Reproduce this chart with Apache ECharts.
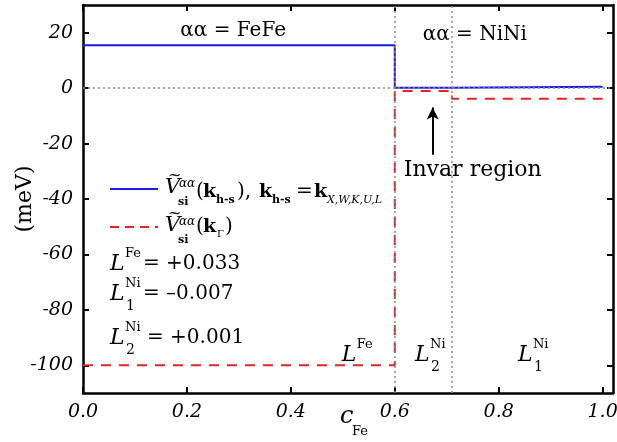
<!DOCTYPE html>
<html>
<head>
<meta charset="utf-8">
<script src="https://cdn.jsdelivr.net/npm/echarts@6/dist/echarts.min.js"></script>
<style>
  html, body { margin: 0; padding: 0; background: #fff; }
  #chart { width: 617px; height: 442px; }
</style>
</head>
<body>
<div id="chart"></div>
<script>
// Axis ticks
const xTicks = [0, 0.2, 0.4, 0.6, 0.8, 1.0];
const yTicks = [-100, -80, -60, -40, -20, 0, 20];

// Step profile of the short-range interaction along the high-symmetry k points
const blueX = [0, 0.6, 0.6, 0.71, 0.71, 1.0];
const blueY = [15.5, 15.5, 0.1, 0.1, 0.5, 0.5];

// Step profile at the Gamma point
const redX = [0, 0.6, 0.6, 0.71, 0.71, 1.0];
const redY = [-100, -100, -1, -1, -3.8, -3.8];

// Concentration boundaries between regimes
const boundaries = [0.6, 0.71];

// Invar arrow (x, tail y, head y)
const arrowX = 0.673;
const arrowY = [-24, -7];

// Coupling constants listed in the key
const couplingSup = ['Fe', 'Ni', 'Ni'];
const couplingSub = ['', '1', '2'];
const couplingValues = ['= +0.033', '= \u20130.007', '= +0.001'];

const SERIF = '"DejaVu Serif"';
const BLUE = '#1a1aeb';
const RED = '#e3242b';
const GUIDE = '#8c8c8c';
const INK = '#000';

const chart = echarts.init(document.getElementById('chart'), null, { renderer: 'canvas' });

const pairs = (xs, ys) => xs.map((x, i) => [x, ys[i]]);

const axisCommon = {
  type: 'value',
  axisLine: { show: true, onZero: false, lineStyle: { color: '#000', width: 2.5 } },
  splitLine: { show: false },
};
const tickStyle = vals => ({ show: true, inside: true, length: 6, lineStyle: { width: 2, color: '#000' }, customValues: vals });

const option = {
  animation: false,
  backgroundColor: '#fff',
  grid: { left: 83, right: 4, top: 5, bottom: 49, containLabel: false, outerBoundsMode: 'none' },
  xAxis: [
    Object.assign({}, axisCommon, {
      min: 0, max: 1.02, position: 'bottom',
      axisTick: tickStyle(xTicks),
      axisLabel: {
        show: true, margin: 10, customValues: xTicks,
        formatter: v => v.toFixed(1),
        fontFamily: SERIF, fontStyle: 'italic', fontSize: 19, color: INK
      }
    }),
    Object.assign({}, axisCommon, {
      min: 0, max: 1.02, position: 'top',
      axisTick: tickStyle(xTicks),
      axisLabel: { show: false }
    })
  ],
  yAxis: [
    Object.assign({}, axisCommon, {
      min: -110, max: 30, position: 'left',
      axisTick: tickStyle(yTicks),
      axisLabel: {
        show: true, margin: 10, customValues: yTicks,
        formatter: v => String(v),
        fontFamily: SERIF, fontStyle: 'italic', fontSize: 19, color: INK
      }
    }),
    Object.assign({}, axisCommon, {
      min: -110, max: 30, position: 'right',
      axisTick: tickStyle(yTicks),
      axisLabel: { show: false }
    })
  ],
  series: [
    {
      // dotted guides: zero level and regime boundaries
      type: 'line', data: [], z: 1, silent: true,
      markLine: {
        silent: true, symbol: 'none', label: { show: false },
        lineStyle: { color: GUIDE, type: [2, 3], width: 1.5 },
        data: [
          { yAxis: 0 },
          ...boundaries.map(b => ({ xAxis: b }))
        ]
      }
    },
    {
      // arrow pointing at the invar window
      type: 'line', data: [], z: 4, silent: true,
      markLine: {
        silent: true, symbol: ['none', 'arrow'], symbolSize: [9, 12],
        label: { show: false },
        lineStyle: { color: '#000', type: 'solid', width: 2 },
        data: [[{ coord: [arrowX, arrowY[0]] }, { coord: [arrowX, arrowY[1]] }]]
      }
    },
    {
      name: 'gamma', type: 'line', data: pairs(redX, redY), z: 3,
      showSymbol: false, symbol: 'none',
      lineStyle: { color: RED, width: 2, type: [10, 8] }
    },
    {
      name: 'hs', type: 'line', data: pairs(blueX, blueY), z: 3,
      showSymbol: false, symbol: 'none',
      lineStyle: { color: BLUE, width: 2 }
    }
  ]
};

chart.setOption(option);

// ---------- text annotations ----------
function txt(x, y, text, font, extra) {
  const style = {
    text: text, font: font, fill: INK,
    align: 'left', verticalAlign: 'middle',
    textAlign: 'left', textVerticalAlign: 'middle'
  };
  Object.assign(style, extra || {});
  return { type: 'text', x: x, y: y, z: 100, silent: true, style: style };
}
const px = (x, y) => chart.convertToPixel({ gridIndex: 0 }, [x, y]);

const F = (size, style, weight) =>
  (style || 'normal') + ' ' + (weight || 'normal') + ' ' + size + 'px ' + SERIF;

const els = [];

// y axis title, reading bottom to top
const yTitle = txt(25, 199, '(meV)', F(22), { align: 'center', textAlign: 'center' });
yTitle.rotation = Math.PI / 2;
els.push(yTitle);

// L symbol with stacked superscript and subscript; (x, y) is the left / middle of L
function lSymbol(x, y, sup, sub) {
  els.push(txt(x, y, 'L', F(22, 'italic')));
  els.push(txt(x + 15, y - 10, sup, F(13)));
  if (sub) els.push(txt(x + 16, y + 12, sub, F(14)));
}

// key: blue solid and red dashed samples
els.push({ type: 'line', z: 100, silent: true, shape: { x1: 110, y1: 189, x2: 158, y2: 189 },
  style: { stroke: BLUE, lineWidth: 2 } });
els.push({ type: 'line', z: 100, silent: true, shape: { x1: 110, y1: 227, x2: 158, y2: 227 },
  style: { stroke: RED, lineWidth: 2, lineDash: [9, 6] } });

// V-tilde with αα superscript and "si" subscript
function vTilde(x, y) {
  els.push(txt(x + 3, y - 12, '~', F(16)));
  els.push(txt(x, y, 'V', F(21, 'italic')));
  els.push(txt(x + 14, y - 4, '\u03b1\u03b1', F(12, 'italic')));
  els.push(txt(x + 13, y + 14, 'si', F(11, 'normal', 'bold')));
}

// first key line
vTilde(165, 188);
els.push(txt(196, 192, '(', F(20)));
els.push(txt(203, 192, 'k', F(19, 'normal', 'bold')));
els.push(txt(216, 200, 'h-s', F(11, 'normal', 'bold')));
els.push(txt(237, 192, '),', F(20)));
els.push(txt(259, 192, 'k', F(19, 'normal', 'bold')));
els.push(txt(272, 200, 'h-s', F(11, 'normal', 'bold')));
els.push(txt(296, 192, '=', F(20)));
els.push(txt(314, 192, 'k', F(19, 'normal', 'bold')));
els.push(txt(327, 200, 'X,W,K,U,L', F(11, 'italic')));

// second key line
vTilde(165, 226);
els.push(txt(196, 227, '(', F(20)));
els.push(txt(203, 227, 'k', F(19, 'normal', 'bold')));
els.push(txt(217, 234, '\u0393', F(10)));
els.push(txt(225, 227, ')', F(20)));

// coupling constants
const keyRows = [264, 294, 338];
const keyValueX = [143, 143, 147];
keyRows.forEach((y, i) => {
  lSymbol(110, y, couplingSup[i], couplingSub[i]);
  els.push(txt(keyValueX[i], y, couplingValues[i], F(20)));
});

// regime captions along the top
const feTop = px(0.289, 20.6);
els.push(txt(feTop[0], feTop[1], '\u03b1\u03b1 = FeFe', F(20), { align: 'center', textAlign: 'center' }));
const niTop = px(0.754, 19.2);
els.push(txt(niTop[0], niTop[1], '\u03b1\u03b1 = NiNi', F(20), { align: 'center', textAlign: 'center' }));

// invar label
const inv = px(0.75, -29.5);
els.push(txt(inv[0], inv[1], 'Invar region', F(22), { align: 'center', textAlign: 'center' }));

// regime labels along the bottom
const lFe = px(0.498, -96.3);
lSymbol(lFe[0], lFe[1], 'Fe', '');
const l2 = px(0.639, -96.3);
lSymbol(l2[0], l2[1], 'Ni', '2');
const l1 = px(0.837, -96.3);
lSymbol(l1[0], l1[1], 'Ni', '1');

// x axis title c_Fe
els.push(txt(340, 417, 'c', F(24, 'italic')));
els.push(txt(352, 432, 'Fe', F(13)));

chart.setOption({ graphic: { elements: els } });
</script>
</body>
</html>
